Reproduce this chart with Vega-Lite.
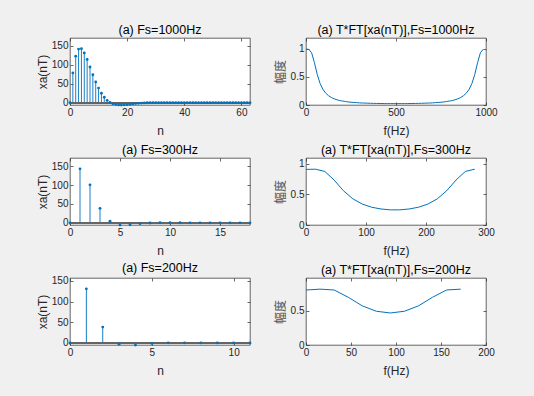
{
  "$schema": "https://vega.github.io/schema/vega-lite/v6.json",
  "autosize": {"type": "none"},
  "padding": {"left": 70, "top": 38, "right": 464, "bottom": 358},
  "background": "#f0f0f0",
  "datasets": {
    "s1000": [
      {"n":0,"v":0},{"n":1,"v":78.35},{"n":2,"v":122.4},{"n":3,"v":141.0},{"n":4,"v":141.8},{"n":5,"v":131.0},{"n":6,"v":113.8},{"n":7,"v":93.8},{"n":8,"v":73.5},{"n":9,"v":54.7},
      {"n":10,"v":38.3},{"n":11,"v":24.8},{"n":12,"v":14.2},{"n":13,"v":6.2},{"n":14,"v":0.63},{"n":15,"v":-3.0},{"n":16,"v":-5.08},{"n":17,"v":-6.03},{"n":18,"v":-6.17},{"n":19,"v":-5.75},
      {"n":20,"v":-5.04},{"n":21,"v":-4.18},{"n":22,"v":-3.3},{"n":23,"v":-2.47},{"n":24,"v":-1.75},{"n":25,"v":-1.15},{"n":26,"v":-0.68},{"n":27,"v":-0.31},{"n":28,"v":-0.06},{"n":29,"v":0.11},
      {"n":30,"v":0.21},{"n":31,"v":0.26},{"n":32,"v":0.27},{"n":33,"v":0.25},{"n":34,"v":0.22},{"n":35,"v":0.19},{"n":36,"v":0.15},{"n":37,"v":0.11},{"n":38,"v":0.08},{"n":39,"v":0.05},
      {"n":40,"v":0.03},{"n":41,"v":0.02},{"n":42,"v":0.01},{"n":43,"v":0},{"n":44,"v":0},{"n":45,"v":0},{"n":46,"v":0},{"n":47,"v":0},{"n":48,"v":0},{"n":49,"v":0},
      {"n":50,"v":0},{"n":51,"v":0},{"n":52,"v":0},{"n":53,"v":0},{"n":54,"v":0},{"n":55,"v":0},{"n":56,"v":0},{"n":57,"v":0},{"n":58,"v":0},{"n":59,"v":0},
      {"n":60,"v":0},{"n":61,"v":0},{"n":62,"v":0},{"n":63,"v":0}
    ],
    "s300": [
      {"n":0,"v":0},{"n":1,"v":142.9},{"n":2,"v":100.6},{"n":3,"v":38.3},{"n":4,"v":4.07},{"n":5,"v":-5.8},{"n":6,"v":-5.04},{"n":7,"v":-2.22},{"n":8,"v":-0.42},{"n":9,"v":0.21},
      {"n":10,"v":0.24},{"n":11,"v":0.12},{"n":12,"v":0.03},{"n":13,"v":-0.01},{"n":14,"v":0},{"n":15,"v":0},{"n":16,"v":0},{"n":17,"v":0},{"n":18,"v":0}
    ],
    "s200": [
      {"n":0,"v":0},{"n":1,"v":131.0},{"n":2,"v":38.3},{"n":3,"v":-3.0},{"n":4,"v":-5.04},{"n":5,"v":-1.15},{"n":6,"v":0.21},{"n":7,"v":0.19},{"n":8,"v":0.03},{"n":9,"v":-0.01},
      {"n":10,"v":-0.005},{"n":11,"v":0}
    ],
    "f1000": [
      {"f":0,"a":0.991},{"f":15.625,"a":0.988},{"f":31.25,"a":0.926},{"f":46.875,"a":0.75},{"f":62.5,"a":0.541},{"f":78.125,"a":0.383},{"f":93.75,"a":0.279},{"f":109.375,"a":0.211},
      {"f":125,"a":0.165},{"f":140.625,"a":0.134},{"f":156.25,"a":0.11},{"f":171.875,"a":0.093},{"f":187.5,"a":0.079},{"f":203.125,"a":0.07},{"f":218.75,"a":0.062},{"f":234.375,"a":0.055},
      {"f":250,"a":0.049},{"f":265.625,"a":0.045},{"f":281.25,"a":0.042},{"f":296.875,"a":0.038},{"f":312.5,"a":0.035},{"f":328.125,"a":0.034},{"f":343.75,"a":0.032},{"f":359.375,"a":0.03},
      {"f":375,"a":0.029},{"f":390.625,"a":0.028},{"f":406.25,"a":0.027},{"f":421.875,"a":0.026},{"f":437.5,"a":0.025},{"f":453.125,"a":0.025},{"f":468.75,"a":0.025},{"f":484.375,"a":0.025},
      {"f":500,"a":0.024},{"f":515.625,"a":0.025},{"f":531.25,"a":0.025},{"f":546.875,"a":0.025},{"f":562.5,"a":0.025},{"f":578.125,"a":0.026},{"f":593.75,"a":0.027},{"f":609.375,"a":0.028},
      {"f":625,"a":0.029},{"f":640.625,"a":0.03},{"f":656.25,"a":0.032},{"f":671.875,"a":0.034},{"f":687.5,"a":0.035},{"f":703.125,"a":0.038},{"f":718.75,"a":0.042},{"f":734.375,"a":0.045},
      {"f":750,"a":0.049},{"f":765.625,"a":0.055},{"f":781.25,"a":0.062},{"f":796.875,"a":0.07},{"f":812.5,"a":0.079},{"f":828.125,"a":0.093},{"f":843.75,"a":0.11},{"f":859.375,"a":0.134},
      {"f":875,"a":0.165},{"f":890.625,"a":0.211},{"f":906.25,"a":0.279},{"f":921.875,"a":0.383},{"f":937.5,"a":0.541},{"f":953.125,"a":0.75},{"f":968.75,"a":0.926},{"f":984.375,"a":0.988}
    ],
    "f300": [
      {"f":0,"a":0.91},{"f":15.625,"a":0.914},{"f":31.25,"a":0.877},{"f":46.875,"a":0.736},{"f":62.5,"a":0.56},{"f":78.125,"a":0.428},{"f":93.75,"a":0.343},{"f":109.375,"a":0.291},
      {"f":125,"a":0.262},{"f":140.625,"a":0.248},{"f":156.25,"a":0.248},{"f":171.875,"a":0.262},{"f":187.5,"a":0.291},{"f":203.125,"a":0.343},{"f":218.75,"a":0.428},{"f":234.375,"a":0.56},
      {"f":250,"a":0.736},{"f":265.625,"a":0.877},{"f":281.25,"a":0.914}
    ],
    "f200": [
      {"f":0,"a":0.803},{"f":15.625,"a":0.816},{"f":31.25,"a":0.804},{"f":46.875,"a":0.698},{"f":62.5,"a":0.572},{"f":78.125,"a":0.493},{"f":93.75,"a":0.468},{"f":109.375,"a":0.493},
      {"f":125,"a":0.572},{"f":140.625,"a":0.698},{"f":156.25,"a":0.804},{"f":171.875,"a":0.816}
    ]
  },
  "columns": 2,
  "spacing": {"row": 53, "column": 56},
  "bounds": "flush",
  "concat": [
    {
      "title": "(a) Fs=1000Hz",
      "width": 180, "height": 67,
      "data": {"name": "s1000"},
      "layer": [
        {"mark": {"type": "rule", "color": "#0072BD", "strokeWidth": 0.9},
         "encoding": {
           "x": {"field": "n", "type": "quantitative", "scale": {"domain": [0, 63], "nice": false, "zero": false}, "axis": {"orient": "bottom", "values": [0, 20, 40, 60], "format": "d", "title": "n", "labelOverlap": false}},
           "y": {"field": "v", "type": "quantitative", "scale": {"domain": [-6.17, 170.2], "nice": false, "zero": false}, "axis": {"orient": "left", "values": [0, 50, 100, 150], "format": "d", "title": "xa(nT)", "titleX": -21, "titleY": 33.5, "labelOverlap": false}},
           "y2": {"datum": 0}}},
        {"mark": {"type": "rule", "color": "#666666", "strokeWidth": 1}, "encoding": {"y": {"datum": 0, "type": "quantitative", "axis": null}}},
        {"mark": {"type": "circle", "color": "#0072BD", "size": 8, "opacity": 1},
         "encoding": {"x": {"field": "n", "type": "quantitative", "axis": null}, "y": {"field": "v", "type": "quantitative", "axis": null}}},
        {"mark": {"type": "circle", "opacity": 0},
         "encoding": {"x": {"field": "n", "type": "quantitative", "axis": {"orient": "top", "values": [0, 20, 40, 60], "labels": false, "title": null}},
                      "y": {"field": "v", "type": "quantitative", "axis": {"orient": "right", "values": [0, 50, 100, 150], "labels": false, "title": null}}}}
      ],
      "resolve": {"axis": {"x": "independent", "y": "independent"}}
    },
    {
      "title": "(a) T*FT[xa(nT)],Fs=1000Hz",
      "width": 180, "height": 67,
      "data": {"name": "f1000"},
      "layer": [
        {"mark": {"type": "line", "color": "#0072BD", "strokeWidth": 1},
         "encoding": {
           "x": {"field": "f", "type": "quantitative", "scale": {"domain": [0, 1000], "nice": false, "zero": false}, "axis": {"orient": "bottom", "values": [0, 500, 1000], "format": "d", "title": "f(Hz)", "labelOverlap": false}},
           "y": {"field": "a", "type": "quantitative", "scale": {"domain": [0, 1.189], "nice": false, "zero": false}, "axis": {"orient": "left", "values": [0, 0.5, 1], "format": ".1~f", "title": "幅度", "titleFont": "Noto Sans CJK SC", "titleColor": "#555555", "titleX": -19, "titleY": 33.5, "labelOverlap": false}}}},
        {"mark": {"type": "line", "opacity": 0},
         "encoding": {"x": {"field": "f", "type": "quantitative", "axis": {"orient": "top", "values": [0, 500, 1000], "labels": false, "title": null}},
                      "y": {"field": "a", "type": "quantitative", "axis": {"orient": "right", "values": [0, 0.5, 1], "labels": false, "title": null}}}}
      ],
      "resolve": {"axis": {"x": "independent", "y": "independent"}}
    },
    {
      "title": "(a) Fs=300Hz",
      "width": 180, "height": 67,
      "data": {"name": "s300"},
      "layer": [
        {"mark": {"type": "rule", "color": "#0072BD", "strokeWidth": 0.9},
         "encoding": {
           "x": {"field": "n", "type": "quantitative", "scale": {"domain": [0, 18], "nice": false, "zero": false}, "axis": {"orient": "bottom", "values": [0, 5, 10, 15], "format": "d", "title": "n", "labelOverlap": false}},
           "y": {"field": "v", "type": "quantitative", "scale": {"domain": [-5.8, 171.5], "nice": false, "zero": false}, "axis": {"orient": "left", "values": [0, 50, 100, 150], "format": "d", "title": "xa(nT)", "titleX": -21, "titleY": 33.5, "labelOverlap": false}},
           "y2": {"datum": 0}}},
        {"mark": {"type": "rule", "color": "#666666", "strokeWidth": 1}, "encoding": {"y": {"datum": 0, "type": "quantitative", "axis": null}}},
        {"mark": {"type": "circle", "color": "#0072BD", "size": 8, "opacity": 1},
         "encoding": {"x": {"field": "n", "type": "quantitative", "axis": null}, "y": {"field": "v", "type": "quantitative", "axis": null}}},
        {"mark": {"type": "circle", "opacity": 0},
         "encoding": {"x": {"field": "n", "type": "quantitative", "axis": {"orient": "top", "values": [0, 5, 10, 15], "labels": false, "title": null}},
                      "y": {"field": "v", "type": "quantitative", "axis": {"orient": "right", "values": [0, 50, 100, 150], "labels": false, "title": null}}}}
      ],
      "resolve": {"axis": {"x": "independent", "y": "independent"}}
    },
    {
      "title": "(a) T*FT[xa(nT)],Fs=300Hz",
      "width": 180, "height": 67,
      "data": {"name": "f300"},
      "layer": [
        {"mark": {"type": "line", "color": "#0072BD", "strokeWidth": 1},
         "encoding": {
           "x": {"field": "f", "type": "quantitative", "scale": {"domain": [0, 300], "nice": false, "zero": false}, "axis": {"orient": "bottom", "values": [0, 100, 200, 300], "format": "d", "title": "f(Hz)", "labelOverlap": false}},
           "y": {"field": "a", "type": "quantitative", "scale": {"domain": [0, 1.097], "nice": false, "zero": false}, "axis": {"orient": "left", "values": [0, 0.5, 1], "format": ".1~f", "title": "幅度", "titleFont": "Noto Sans CJK SC", "titleColor": "#555555", "titleX": -19, "titleY": 33.5, "labelOverlap": false}}}},
        {"mark": {"type": "line", "opacity": 0},
         "encoding": {"x": {"field": "f", "type": "quantitative", "axis": {"orient": "top", "values": [0, 100, 200, 300], "labels": false, "title": null}},
                      "y": {"field": "a", "type": "quantitative", "axis": {"orient": "right", "values": [0, 0.5, 1], "labels": false, "title": null}}}}
      ],
      "resolve": {"axis": {"x": "independent", "y": "independent"}}
    },
    {
      "title": "(a) Fs=200Hz",
      "width": 180, "height": 67,
      "data": {"name": "s200"},
      "layer": [
        {"mark": {"type": "rule", "color": "#0072BD", "strokeWidth": 0.9},
         "encoding": {
           "x": {"field": "n", "type": "quantitative", "scale": {"domain": [0, 11], "nice": false, "zero": false}, "axis": {"orient": "bottom", "values": [0, 5, 10], "format": "d", "title": "n", "labelOverlap": false}},
           "y": {"field": "v", "type": "quantitative", "scale": {"domain": [-5.04, 157.2], "nice": false, "zero": false}, "axis": {"orient": "left", "values": [0, 50, 100, 150], "format": "d", "title": "xa(nT)", "titleX": -21, "titleY": 33.5, "labelOverlap": false}},
           "y2": {"datum": 0}}},
        {"mark": {"type": "rule", "color": "#666666", "strokeWidth": 1}, "encoding": {"y": {"datum": 0, "type": "quantitative", "axis": null}}},
        {"mark": {"type": "circle", "color": "#0072BD", "size": 8, "opacity": 1},
         "encoding": {"x": {"field": "n", "type": "quantitative", "axis": null}, "y": {"field": "v", "type": "quantitative", "axis": null}}},
        {"mark": {"type": "circle", "opacity": 0},
         "encoding": {"x": {"field": "n", "type": "quantitative", "axis": {"orient": "top", "values": [0, 5, 10], "labels": false, "title": null}},
                      "y": {"field": "v", "type": "quantitative", "axis": {"orient": "right", "values": [0, 50, 100, 150], "labels": false, "title": null}}}}
      ],
      "resolve": {"axis": {"x": "independent", "y": "independent"}}
    },
    {
      "title": "(a) T*FT[xa(nT)],Fs=200Hz",
      "width": 180, "height": 67,
      "data": {"name": "f200"},
      "layer": [
        {"mark": {"type": "line", "color": "#0072BD", "strokeWidth": 1},
         "encoding": {
           "x": {"field": "f", "type": "quantitative", "scale": {"domain": [0, 200], "nice": false, "zero": false}, "axis": {"orient": "bottom", "values": [0, 50, 100, 150, 200], "format": "d", "title": "f(Hz)", "labelOverlap": false}},
           "y": {"field": "a", "type": "quantitative", "scale": {"domain": [0, 0.979], "nice": false, "zero": false}, "axis": {"orient": "left", "values": [0, 0.5], "format": ".1~f", "title": "幅度", "titleFont": "Noto Sans CJK SC", "titleColor": "#555555", "titleX": -19, "titleY": 33.5, "labelOverlap": false}}}},
        {"mark": {"type": "line", "opacity": 0},
         "encoding": {"x": {"field": "f", "type": "quantitative", "axis": {"orient": "top", "values": [0, 50, 100, 150, 200], "labels": false, "title": null}},
                      "y": {"field": "a", "type": "quantitative", "axis": {"orient": "right", "values": [0, 0.5], "labels": false, "title": null}}}}
      ],
      "resolve": {"axis": {"x": "independent", "y": "independent"}}
    }
  ],
  "config": {
    "background": "#f0f0f0",
    "font": "Liberation Sans",
    "view": {"fill": "white", "stroke": "#262626", "strokeWidth": 0.7},
    "axis": {
      "labelFont": "Liberation Sans", "labelFontSize": 10, "labelColor": "#262626",
      "titleFont": "Liberation Sans", "titleFontSize": 12, "titleFontWeight": "normal", "titleColor": "#262626",
      "domain": false, "grid": false, "labelOverlap": false, "labelFlush": false,
      "ticks": true, "tickColor": "#262626", "tickSize": -3, "tickWidth": 0.7,
      "labelPadding": 5, "titlePadding": 2
    },
    "axisX": {"titlePadding": 8},
    "title": {"font": "Liberation Sans", "fontSize": 12.5, "fontWeight": "normal", "color": "#000000", "offset": 1}
  }
}
